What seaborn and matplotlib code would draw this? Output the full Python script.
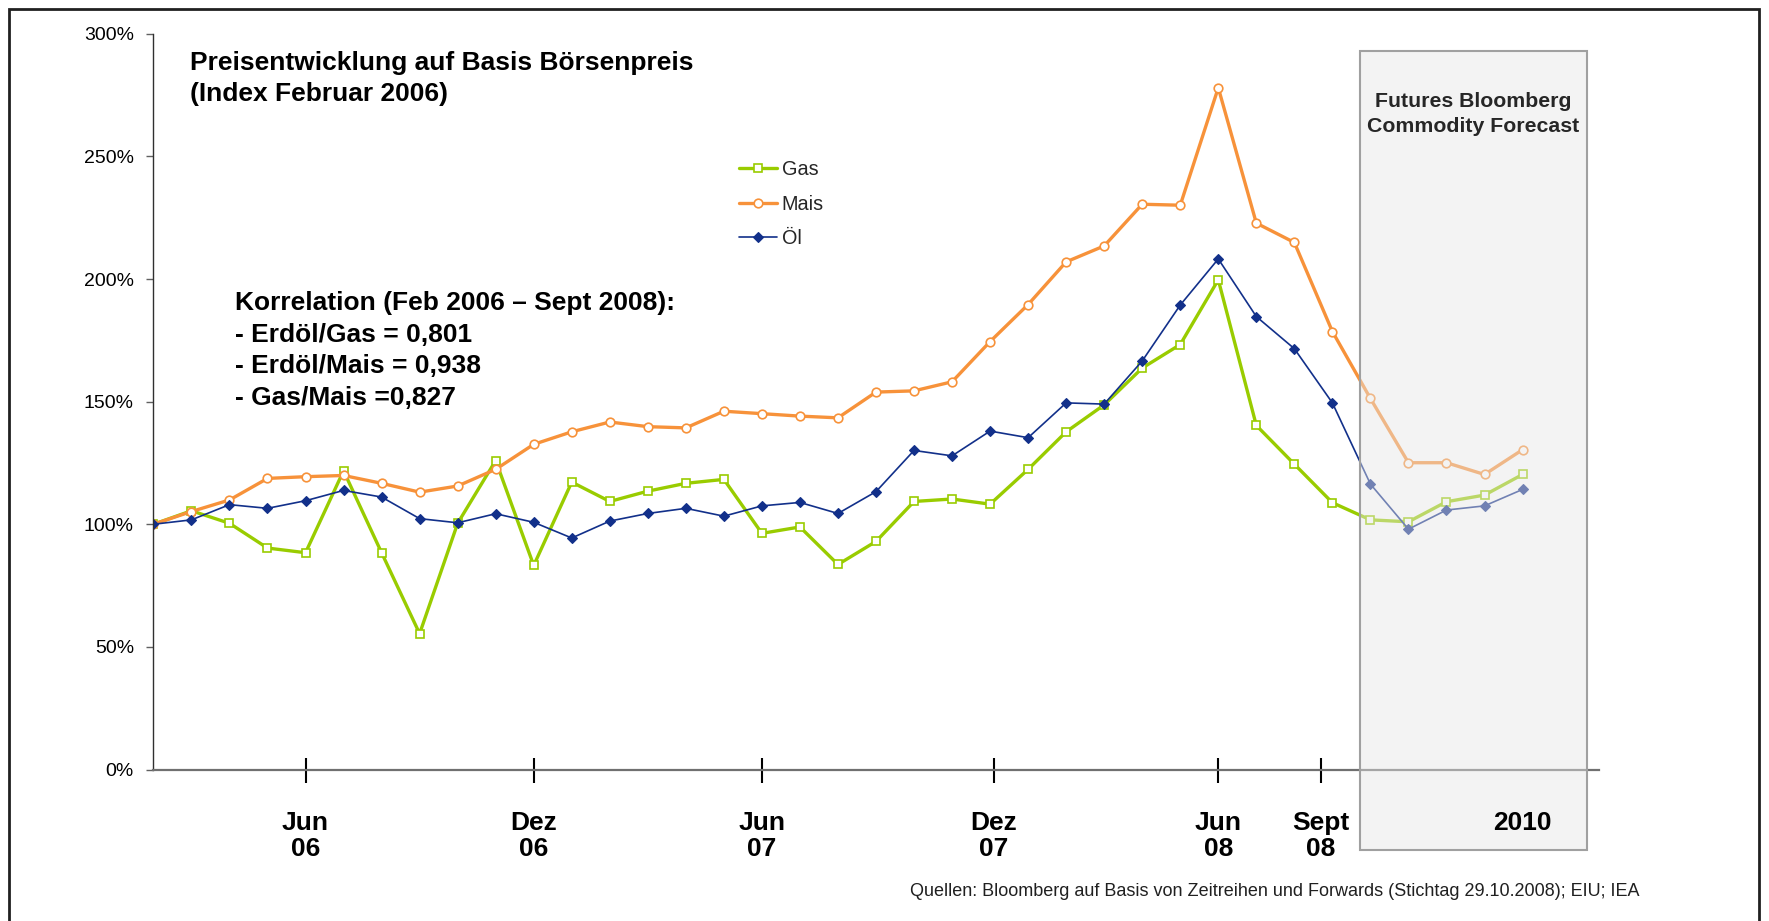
import numpy as np
import pandas as pd
import matplotlib
matplotlib.use("Agg")
import matplotlib.pyplot as plt
import matplotlib.transforms as mtransforms
from matplotlib.patches import Rectangle
import seaborn as sns

# ---------------- data ----------------
months = list(range(37))  # Feb 2006 ... Sept 2008 monthly (0..31), then forecast points (32..36)
gas = [100, 105.5, 100.4, 90.3, 88.4, 121.8, 88.4, 55.4, 100.4, 126, 83.2, 117.2, 109.3, 113.5,
       116.7, 118.3, 96.3, 98.9, 83.6, 93, 109.3, 110.3, 108.2, 122.4, 137.7, 148.7, 163.7,
       173.3, 199.7, 140.3, 124.5, 108.8, 101.8, 101, 109.2, 111.9, 120.3]
mais = [100, 105.2, 109.9, 118.7, 119.4, 119.9, 116.7, 113.1, 115.6, 122.4, 132.6, 137.7, 141.7,
        139.8, 139.3, 146.1, 145.1, 144.1, 143.4, 153.9, 154.4, 158.1, 174.5, 189.6, 207, 213.5,
        230.5, 230.1, 278, 222.8, 214.9, 178.6, 151.3, 125.1, 125.1, 120.3, 130.4]
oel = [100, 101.8, 108, 106.5, 109.6, 113.8, 111.1, 102.3, 100.6, 104.3, 100.8, 94.4, 101.3,
       104.4, 106.5, 103.3, 107.5, 108.9, 104.4, 113.3, 130.1, 127.9, 138, 135.3, 149.5, 149,
       166.6, 189.4, 208.2, 184.7, 171.6, 149.5, 116.4, 98, 105.8, 107.5, 114.2]
series_names = ["Gas", "Mais", "Öl"]

xtick_pos = [4, 10, 16, 22.1, 28, 30.7]
xtick_labels = ["Jun\n06", "Dez\n06", "Jun\n07", "Dez\n07", "Jun\n08", "Sept\n08"]
forecast_label = "2010"
forecast_label_pos = 36
ytick_vals = [0, 50, 100, 150, 200, 250, 300]
ytick_labels = ["0%", "50%", "100%", "150%", "200%", "250%", "300%"]

forecast_box_x = (31.73, 37.69)
forecast_box_y = (-32.7, 293.1)

title_lines = ["Preisentwicklung auf Basis Börsenpreis", "(Index Februar 2006)"]
corr_lines = ["Korrelation (Feb 2006 – Sept 2008):", "- Erdöl/Gas = 0,801",
              "- Erdöl/Mais = 0,938", "- Gas/Mais =0,827"]
box_text = "Futures Bloomberg\nCommodity Forecast"
source = "Quellen: Bloomberg auf Basis von Zeitreihen und Forwards (Stichtag 29.10.2008); EIU; IEA"

# ---------------- style ----------------
sns.set_theme(style="white")
plt.rcParams['font.family'] = ['Liberation Sans', 'DejaVu Sans']

W, H = 1769, 921
fig = plt.figure(figsize=(W / 100, H / 100), dpi=100)
fig.patch.set_facecolor("white")

def fx(px):
    return px / W

def fy(py):
    return 1 - py / H

ax = fig.add_axes([fx(153.4), fy(769.5), fx(1598.6) - fx(153.4), fy(33.8) - fy(769.5)])
ax.set_facecolor("white")

green = "#99CC00"
orange = "#F7923A"
navy = "#12308A"

sns.lineplot(x=months, y=gas, ax=ax, color=green, lw=2.4, marker="s", markersize=6,
             markerfacecolor="white", markeredgecolor=green, markeredgewidth=1.2,
             label=series_names[0], zorder=2)
sns.lineplot(x=months, y=mais, ax=ax, color=orange, lw=2.4, marker="o", markersize=6.2,
             markerfacecolor="white", markeredgecolor=orange, markeredgewidth=1.2,
             label=series_names[1], zorder=2.1)
sns.lineplot(x=months, y=oel, ax=ax, color=navy, lw=1.2, marker="D", markersize=5.5,
             markerfacecolor=navy, markeredgecolor=navy, markeredgewidth=0.8,
             label=series_names[2], zorder=2.2)

ax.set_xlim(0, 38)
ax.set_ylim(0, 300)

# spines
for s in ["top", "right"]:
    ax.spines[s].set_visible(False)
ax.spines["left"].set_color("#303030")
ax.spines["left"].set_linewidth(1.0)
ax.spines["bottom"].set_color("#707070")
ax.spines["bottom"].set_linewidth(1.6)

ax.set_yticks(ytick_vals)
ax.set_yticklabels(ytick_labels)
ax.tick_params(axis="y", direction="out", length=5, width=1, color="#606060",
               pad=9, labelsize=14, labelcolor="black", left=True)

ax.set_xticks(xtick_pos)
ax.set_xticklabels(xtick_labels)
ax.tick_params(axis="x", direction="inout", length=18, width=1.5, color="black",
               pad=21, labelsize=19, labelcolor="black", bottom=True)
for lab in ax.get_xticklabels():
    lab.set_fontweight("bold")
    lab.set_linespacing(1.12)

ax.set_xlabel("")
ax.set_ylabel("")

# forecast label
trans = mtransforms.blended_transform_factory(ax.transData, fig.transFigure)
ax.text(forecast_label_pos, fy(830), forecast_label, transform=trans, ha="center",
        va="baseline", fontsize=19, fontweight="bold", color="black", zorder=5)

# forecast box (overlay)
rect = Rectangle((forecast_box_x[0], forecast_box_y[0]),
                 forecast_box_x[1] - forecast_box_x[0], forecast_box_y[1] - forecast_box_y[0],
                 facecolor=(0.9, 0.9, 0.9, 0.45), edgecolor="#A0A0A0", lw=1.5,
                 clip_on=False, zorder=3, transform=ax.transData)
ax.add_patch(rect)
ax.text((forecast_box_x[0] + forecast_box_x[1]) / 2, fy(101.5), box_text.split("\n")[0],
        transform=trans, ha="center", va="center", fontsize=15.3, fontweight="bold", zorder=5)
ax.text((forecast_box_x[0] + forecast_box_x[1]) / 2, fy(126.5), box_text.split("\n")[1],
        transform=trans, ha="center", va="center", fontsize=15.3, fontweight="bold", zorder=5)

# legend
leg = ax.legend(loc="center left", bbox_to_anchor=(fx(739), fy(204)), bbox_transform=fig.transFigure,
                frameon=False, fontsize=14.3, handlelength=1.9, handletextpad=0.25,
                labelspacing=0.8, borderpad=0, borderaxespad=0)

# title lines
for i, t in enumerate(title_lines):
    fig.text(fx(189.5), fy(70 + i * 30.5), t, ha="left", va="baseline",
             fontsize=19, fontweight="bold", color="black")

# correlation lines
for i, t in enumerate(corr_lines):
    fig.text(fx(235), fy(310 + i * 31.7), t, ha="left", va="baseline",
             fontsize=19, fontweight="bold", color="black")

# source
fig.text(fx(1639), fy(896), source, ha="right", va="baseline", fontsize=13, color="#202020")

# outer frame
frame = Rectangle((fx(9), fy(930)), fx(1759) - fx(9), fy(9) - fy(930), transform=fig.transFigure,
                  fill=False, edgecolor="#202020", lw=2, clip_on=False)
fig.patches.append(frame)

fig.savefig("out.png", dpi=100, facecolor="white")
